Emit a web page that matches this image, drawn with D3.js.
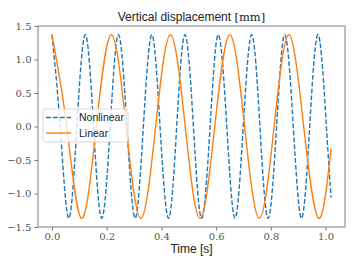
<!DOCTYPE html>
<meta charset="utf-8">
<style>
body { margin: 0; background: #fff; }
.tick text { font-family: "DejaVu Serif", "Liberation Serif", serif; font-size: 10px; fill: #555; }
.tick line { stroke: #777; }
</style>
<svg width="357" height="268"></svg>
<script src="https://d3js.org/d3.v7.min.js"></script>
<script>
// values: extrema and zero crossings of each curve
let nonlinearT = [0, 0.030, 0.061, 0.091, 0.122, 0.152, 0.182, 0.213, 0.243, 0.274, 0.304, 0.334,
  0.365, 0.395, 0.426, 0.456, 0.486, 0.517, 0.547, 0.578, 0.608, 0.639, 0.669, 0.699, 0.730,
  0.760, 0.790, 0.821, 0.851, 0.882, 0.912, 0.942, 0.973, 1.003, 1.020];
let nonlinearY = [1.37, 0, -1.37, 0, 1.37, 0, -1.37, 0, 1.37, 0, -1.37, 0,
  1.37, 0, -1.37, 0, 1.37, 0, -1.37, 0, 1.37, 0, -1.37, 0, 1.37,
  0, -1.37, 0, 1.37, 0, -1.37, 0, 1.37, 0, -1.06];

let linearT = [0, 0.054, 0.108, 0.162, 0.217, 0.271, 0.325, 0.379, 0.433, 0.487, 0.541, 0.595,
  0.650, 0.704, 0.758, 0.812, 0.866, 0.920, 0.974, 1.020];
let linearY = [1.37, 0, -1.37, 0, 1.37, 0, -1.37, 0, 1.37, 0, -1.37, 0,
  1.37, 0, -1.37, 0, 1.37, 0, -1.37, -0.33];

let xTicks = [0, 0.2, 0.4, 0.6, 0.8, 1.0];
let yTicks = [-1.5, -1.0, -0.5, 0.0, 0.5, 1.0, 1.5];
let labels = ["Nonlinear", "Linear"];

let svg = d3.select("svg"),
  margin = {top: 26, right: 12, bottom: 41, left: 38},
  width = +svg.attr("width") - margin.left - margin.right,
  height = +svg.attr("height") - margin.top - margin.bottom;

let x = d3.scaleLinear().domain([-0.051, 1.071]).range([0, width]);
let y = d3.scaleLinear().domain([-1.5, 1.5]).range([height, 0]);

let g = svg.append("g").attr("transform", "translate(" + margin.left + "," + margin.top + ")");

let fmt = function(d) { return d3.format(".1f")(d).replace("-", "\u2212"); };

g.append("g")
  .attr("transform", "translate(0," + height + ")")
  .call(d3.axisBottom(x).tickValues(xTicks).tickFormat(fmt).tickSize(3.5).tickPadding(2.5))
  .call(function(a) { a.select(".domain").remove(); });

g.append("g")
  .call(d3.axisLeft(y).tickValues(yTicks).tickFormat(fmt).tickSize(3.5).tickPadding(3))
  .call(function(a) { a.select(".domain").remove(); });

let line = d3.line()
  .x(function(d) { return x(d[0]); })
  .y(function(d) { return y(d[1]); })
  .curve(d3.curveNatural);

g.append("clipPath").attr("id", "clip").append("rect")
  .attr("width", width).attr("height", height);

g.append("path")
  .datum(nonlinearT.map(function(t, i) { return [t, nonlinearY[i]]; }))
  .attr("clip-path", "url(#clip)")
  .attr("fill", "none")
  .attr("stroke", "#1f77b4")
  .attr("stroke-width", 1.4)
  .attr("stroke-dasharray", "4.8,2.1")
  .attr("d", line);

g.append("path")
  .datum(linearT.map(function(t, i) { return [t, linearY[i]]; }))
  .attr("clip-path", "url(#clip)")
  .attr("fill", "none")
  .attr("stroke", "#ff7f0e")
  .attr("stroke-width", 1.4)
  .attr("d", line);

// frame
g.append("rect")
  .attr("width", width).attr("height", height)
  .attr("fill", "none").attr("stroke", "#808080").attr("stroke-width", 1);

// legend
let leg = g.append("g").attr("transform", "translate(5,83)");
leg.append("rect")
  .attr("width", 85).attr("height", 33).attr("rx", 2)
  .attr("fill", "#fff").attr("fill-opacity", 0.8)
  .attr("stroke", "#d0d0d0").attr("stroke-width", 0.8);
let styles = [{c: "#1f77b4", dash: "4.8,2.1"}, {c: "#ff7f0e", dash: null}];
labels.forEach(function(lab, i) {
  let yy = 8.5 + i * 15.5;
  leg.append("line")
    .attr("x1", 3).attr("x2", 28).attr("y1", yy).attr("y2", yy)
    .attr("stroke", styles[i].c).attr("stroke-width", 1.4)
    .attr("stroke-dasharray", styles[i].dash);
  leg.append("text")
    .attr("x", 36).attr("y", yy).attr("dy", "0.35em")
    .attr("font-family", "Liberation Sans, Arial, sans-serif")
    .attr("font-size", 10.5).attr("fill", "#222")
    .text(lab);
});

// title and axis label
let title = svg.append("text")
  .attr("x", margin.left + width / 2).attr("y", 21)
  .attr("text-anchor", "middle")
  .attr("font-family", "Liberation Sans, Arial, sans-serif")
  .attr("font-size", 12).attr("fill", "#222");
title.append("tspan").text("Vertical displacement ");
title.append("tspan").attr("font-family", "DejaVu Serif, Liberation Serif, serif")
  .attr("font-size", 11.5).text("[mm]");

svg.append("text")
  .attr("x", margin.left + width / 2).attr("y", 253)
  .attr("text-anchor", "middle")
  .attr("font-family", "Liberation Sans, Arial, sans-serif")
  .attr("font-size", 12).attr("fill", "#222")
  .text("Time [s]");
</script>
